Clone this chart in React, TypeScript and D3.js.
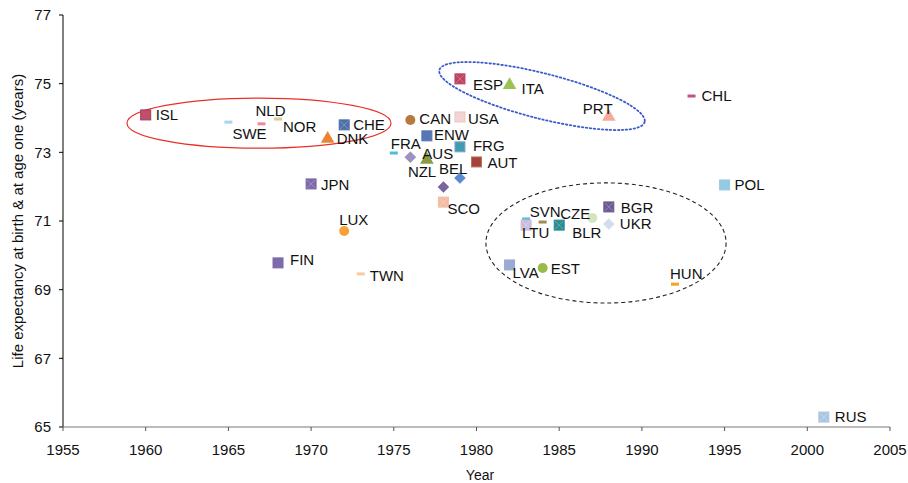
import React from "react";
import * as d3 from "d3";

// ---- data ----
const codes = ["ISL","SWE","NLD","NOR","CHE","DNK","CAN","USA","ENW","FRG","FRA","AUS","NZL","AUT","BEL","BEL2","SCO","ESP","ITA","PRT","CHL","POL","JPN","LUX","FIN","TWN","CYN","LTU","SVN","BLR","CZE","BGR","UKR","LVA","EST","HUN","RUS"];
const labels = ["ISL","SWE","NLD","NOR","CHE","DNK","CAN","USA","ENW","FRG","FRA","AUS","NZL","AUT","BEL","","SCO","ESP","ITA","PRT","CHL","POL","JPN","LUX","FIN","TWN","","LTU","SVN","BLR","CZE","BGR","UKR","LVA","EST","HUN","RUS"];
const years = [1960,1965,1967,1968,1972,1971,1976,1979,1977,1979,1975,1976,1977,1980,1979,1978,1978,1979,1982,1988,1993,1995,1970,1972,1968,1973,1983,1983,1984,1985,1987,1988,1988,1982,1984,1992,2001];
const lifeExp = [74.09,73.88,73.83,73.97,73.8,73.42,73.94,74.03,73.48,73.16,72.98,72.86,72.81,72.72,72.25,71.99,71.55,75.14,74.99,74.06,74.64,72.05,72.08,70.71,69.78,69.46,71.06,70.88,70.97,70.88,71.09,71.41,70.91,69.72,69.63,69.16,65.29];
const xTicks = [1955,1960,1965,1970,1975,1980,1985,1990,1995,2000,2005];
const yTicks = [65,67,69,71,73,75,77];

// ---- styles ----
const markerStyle: Record<string, { shape: string; color: string; stroke?: string; cross?: boolean }> = {
  ISL: { shape: "square", color: "#c0506a", stroke: "#a03a60" },
  SWE: { shape: "dash", color: "#a8d4ec" },
  NLD: { shape: "dash", color: "#ec8c98" },
  NOR: { shape: "dash", color: "#dccc9c" },
  CHE: { shape: "square", color: "#4f70aa", cross: true },
  DNK: { shape: "triangle", color: "#ea8430" },
  CAN: { shape: "circle", color: "#b87a3c" },
  USA: { shape: "square", color: "#f2d4d4", stroke: "#ecc4c4" },
  ENW: { shape: "square", color: "#5676b6" },
  FRG: { shape: "square", color: "#3f9cb2", stroke: "#8aa0c8" },
  FRA: { shape: "dash", color: "#4cc0d2" },
  AUS: { shape: "diamond", color: "#9c92c2", stroke: "#8a80b0" },
  NZL: { shape: "triangle", color: "#8a9a44" },
  AUT: { shape: "square", color: "#a3443c", stroke: "#c07060" },
  BEL: { shape: "diamond", color: "#5a8acb" },
  BEL2: { shape: "diamond", color: "#7a64a2" },
  SCO: { shape: "square", color: "#f2bca4", cross: true },
  ESP: { shape: "square", color: "#bc445e", cross: true },
  ITA: { shape: "triangle", color: "#9cc252" },
  PRT: { shape: "triangle", color: "#f8aa9a" },
  CHL: { shape: "dash", color: "#c4527c" },
  POL: { shape: "square", color: "#94cae2" },
  JPN: { shape: "square", color: "#7c6aaa", cross: true },
  LUX: { shape: "circle", color: "#f8a236" },
  FIN: { shape: "square", color: "#7c6aaa" },
  TWN: { shape: "dash", color: "#f8caa2" },
  CYN: { shape: "dash", color: "#52c2d2" },
  LTU: { shape: "square", color: "#ccbcdc", cross: true },
  SVN: { shape: "dash", color: "#a48a52" },
  BLR: { shape: "square", color: "#2c8c92", cross: true },
  CZE: { shape: "circle", color: "#d4e4bc" },
  BGR: { shape: "square", color: "#6c5a92", cross: true },
  UKR: { shape: "diamond", color: "#d4dcec" },
  LVA: { shape: "square", color: "#9aaad2" },
  EST: { shape: "circle", color: "#9aba4a" },
  HUN: { shape: "dash", color: "#f8a222" },
  RUS: { shape: "square", color: "#aac6e2", cross: true },
};

// label offsets in px relative to marker (text-start x, vertical centre y)
const labelOffset: Record<string, [number, number]> = {
  ISL: [10, 0], SWE: [4, 12], NLD: [-6, -13], NOR: [5, 8], CHE: [9, 0], DNK: [9, 1],
  CAN: [9, -1], USA: [8, 2], ENW: [7, -1], FRG: [13, -1], FRA: [-3, -9], AUS: [12, -3],
  NZL: [-19, 13], AUT: [11, 1], BEL: [-21, -9], SCO: [4, 7], ESP: [13, 6], ITA: [12, 5],
  PRT: [-26, -7], CHL: [10, 0], POL: [10, 0], JPN: [10, 1], LUX: [-5, -11], FIN: [12, -3],
  TWN: [9, 2], LTU: [-4, 8], SVN: [-13, -10], BLR: [13, 8], CZE: [-32, -4], BGR: [12, 1],
  UKR: [11, 0], LVA: [3, 8], EST: [8, 1], HUN: [-5, -10], RUS: [11, 0],
};

const W = 908, H = 483;
const FONT = "'Liberation Sans', Arial, sans-serif";

function Marker({ x, y, code }: { x: number; y: number; code: string }) {
  const s = markerStyle[code];
  switch (s.shape) {
    case "square":
      return (
        <g>
          <rect x={x - 5} y={y - 5} width={10} height={10} fill={s.color} stroke={s.stroke || s.color} strokeWidth={1} />
          {s.cross && (
            <path d={`M${x - 4},${y - 4}L${x + 4},${y + 4}M${x + 4},${y - 4}L${x - 4},${y + 4}`} stroke="#ffffff" strokeOpacity={0.25} strokeWidth={1} />
          )}
        </g>
      );
    case "dash":
      return <rect x={x - 4} y={y - 1.5} width={8} height={3} fill={s.color} />;
    case "triangle":
      return <path d={d3.symbol(d3.symbolTriangle, 80)() || ""} transform={`translate(${x},${y + 1})`} fill={s.color} />;
    case "circle":
      return <circle cx={x} cy={y} r={5} fill={s.color} />;
    case "diamond":
      return <path d={`M${x},${y - 5.5}L${x + 5.5},${y}L${x},${y + 5.5}L${x - 5.5},${y}Z`} fill={s.color} stroke={s.stroke || s.color} strokeWidth={0.5} />;
    default:
      return null;
  }
}

export default function App() {
  const x = d3.scaleLinear().domain([1955, 2005]).range([63, 890]);
  const y = d3.scaleLinear().domain([65, 77]).range([427, 15]);

  const pxPerYear = x(1956) - x(1955);
  const pxPerUnit = y(65) - y(66);

  // annotation ellipses (centre in data coords, radii in data units, rotation in degrees)
  const ellipses = [
    { cx: 1966.85, cy: 73.85, rx: 7.98, ry: 0.73, rot: 0, stroke: "#e8302a", dash: "", w: 1.2 },
    { cx: 1983.96, cy: 74.64, rx: 6.4, ry: 0.66, rot: 14.2, stroke: "#3a5cc8", dash: "1.5,2.5", w: 1.8 },
    { cx: 1987.83, cy: 70.36, rx: 7.26, ry: 1.75, rot: 0, stroke: "#222222", dash: "4,3", w: 1.1 },
  ];

  return (
    <svg width={W} height={H} style={{ position: "absolute", left: 0, top: 0, background: "#fff" }} fontFamily={FONT}>
      {/* ellipses */}
      {ellipses.map((e, i) => (
        <ellipse
          key={i}
          cx={0}
          cy={0}
          rx={e.rx * pxPerYear}
          ry={e.ry * pxPerUnit}
          transform={`translate(${x(e.cx)},${y(e.cy)}) rotate(${e.rot})`}
          fill="none"
          stroke={e.stroke}
          strokeWidth={e.w}
          strokeDasharray={e.dash || undefined}
          strokeLinecap={e.dash === "1.5,2.5" ? "round" : undefined}
        />
      ))}

      {/* y axis */}
      <line x1={63} x2={63} y1={y(77)} y2={y(65)} stroke="#000" strokeWidth={1} />
      {yTicks.map((t) => (
        <g key={t}>
          <line x1={59} x2={63} y1={y(t)} y2={y(t)} stroke="#000" />
          <text x={51} y={y(t)} dy="0.35em" textAnchor="end" fontSize={15} fill="#111">{t}</text>
        </g>
      ))}
      {/* x axis */}
      <line x1={x(1955)} x2={x(2005)} y1={427} y2={427} stroke="#777" strokeWidth={1} />
      {xTicks.map((t) => (
        <g key={t}>
          <line x1={x(t)} x2={x(t)} y1={427} y2={431} stroke="#555" />
          <text x={x(t)} y={450} dy="0.35em" textAnchor="middle" fontSize={15} fill="#111">{t}</text>
        </g>
      ))}

      <text x={480} y={475} dy="0.35em" textAnchor="middle" fontSize={14} fill="#111">Year</text>
      <text transform={`translate(18,${(15 + 427) / 2}) rotate(-90)`} textAnchor="middle" dy="0.35em" fontSize={15} fill="#111">
        Life expectancy at birth &amp; at age one (years)
      </text>

      {/* markers */}
      {codes.map((c, i) => (
        <Marker key={c} code={c} x={x(years[i])} y={y(lifeExp[i])} />
      ))}
      {/* labels */}
      {codes.map((c, i) => {
        if (!labels[i]) return null;
        const off = labelOffset[c] || [10, 0];
        return (
          <text key={c + "l"} x={x(years[i]) + off[0]} y={y(lifeExp[i]) + off[1]} dy="0.35em" fontSize={15} fill="#111">
            {labels[i]}
          </text>
        );
      })}
    </svg>
  );
}
